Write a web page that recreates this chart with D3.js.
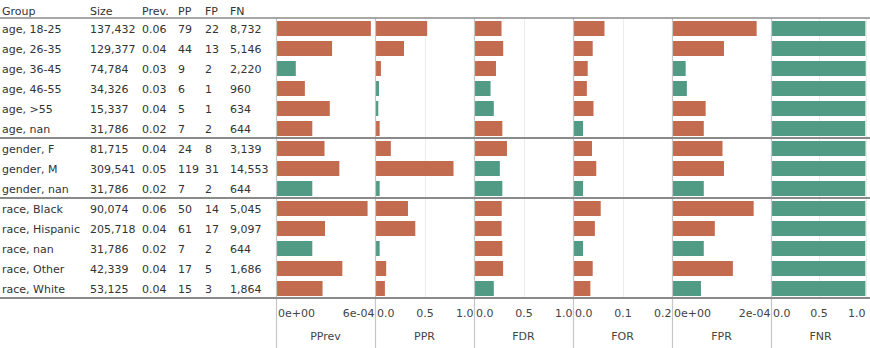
<!DOCTYPE html>
<html>
<head>
<meta charset="utf-8">
<script src="https://d3js.org/d3.v7.min.js"></script>
<style>
    body { margin: 0; background: #fff; }
    svg { display: block; font-family: "DejaVu Sans", Verdana, sans-serif; }
    .cell { font-size: 11px; fill: #333; }
    .tickLabel { font-size: 11px; fill: #444; }
    .panelTitle { font-size: 11px; fill: #444; }
</style>
</head>
<body>
<script>
//table data
var groups = ["age, 18-25", "age, 26-35", "age, 36-45", "age, 46-55", "age, >55", "age, nan",
    "gender, F", "gender, M", "gender, nan",
    "race, Black", "race, Hispanic", "race, nan", "race, Other", "race, White"];
var sizes = [137432, 129377, 74784, 34326, 15337, 31786, 81715, 309541, 31786, 90074, 205718, 31786, 42339, 53125];
var prevs = [0.06, 0.04, 0.03, 0.03, 0.04, 0.02, 0.04, 0.05, 0.02, 0.06, 0.04, 0.02, 0.04, 0.04];
var pps = [79, 44, 9, 6, 5, 7, 24, 119, 7, 50, 61, 7, 17, 15];
var fps = [22, 13, 2, 1, 1, 2, 8, 31, 2, 14, 17, 2, 5, 3];
var fns = [8732, 5146, 2220, 960, 634, 644, 3139, 14553, 644, 5045, 9097, 644, 1686, 1864];

//metric values, one per group
var pprev = [5.75e-4, 3.40e-4, 1.20e-4, 1.75e-4, 3.26e-4, 2.20e-4, 2.94e-4, 3.84e-4, 2.20e-4, 5.55e-4, 2.97e-4, 2.20e-4, 4.02e-4, 2.82e-4];
var ppr = [0.527, 0.293, 0.060, 0.040, 0.033, 0.047, 0.160, 0.793, 0.047, 0.333, 0.407, 0.047, 0.113, 0.100];
var fdr = [0.278, 0.295, 0.222, 0.167, 0.200, 0.286, 0.333, 0.261, 0.286, 0.280, 0.279, 0.286, 0.294, 0.200];
var forRate = [0.0636, 0.0398, 0.0297, 0.0280, 0.0414, 0.0203, 0.0384, 0.0470, 0.0203, 0.0560, 0.0442, 0.0203, 0.0398, 0.0351];
var fpr = [1.71e-4, 1.05e-4, 2.76e-5, 3.00e-5, 6.80e-5, 6.42e-5, 1.02e-4, 1.05e-4, 6.42e-5, 1.65e-4, 8.65e-5, 6.42e-5, 1.23e-4, 5.85e-5];
var fnr = [0.9935, 0.9940, 0.9969, 0.9948, 0.9937, 0.9923, 0.9949, 0.9940, 0.9923, 0.9929, 0.9952, 0.9923, 0.9929, 0.9936];

//1 = within parity (green), 0 = outside (orange)
var pprevOk = [0, 0, 1, 0, 0, 0, 0, 0, 1, 0, 0, 1, 0, 0];
var pprOk = [0, 0, 0, 1, 1, 0, 0, 0, 1, 0, 0, 1, 0, 0];
var fdrOk = [0, 0, 0, 1, 1, 0, 0, 1, 1, 0, 0, 0, 0, 1];
var forOk = [0, 0, 0, 0, 0, 1, 0, 0, 1, 0, 0, 1, 0, 0];
var fprOk = [0, 0, 1, 1, 0, 0, 0, 0, 1, 0, 0, 1, 0, 1];
var fnrOk = [1, 1, 1, 1, 1, 1, 1, 1, 1, 1, 1, 1, 1, 1];

//metric names, axis domains and tick values
var metricNames = ["PPrev", "PPR", "FDR", "FOR", "FPR", "FNR"];
var metricMax = [6e-4, 1, 1, 0.2, 2e-4, 1];
var metricTicks = [[0, 6e-4], [0, 0.5, 1], [0, 0.5, 1], [0, 0.1, 0.2], [0, 2e-4], [0, 0.5, 1]];
var tableHeaders = ["Group", "Size", "Prev.", "PP", "FP", "FN"];

var metricValues = [pprev, ppr, fdr, forRate, fpr, fnr];
var metricOk = [pprevOk, pprOk, fdrOk, forOk, fprOk, fnrOk];

window.onload = setChart();

function setChart(){
    var width = 870,
        height = 348,
        top = 18,
        bottom = 298,
        chartLeft = 276,
        panelWidths = [99, 99, 99, 99, 99, 95],
        panelStep = 99,
        colX = [2, 90, 142, 178, 205, 230];

    var svg = d3.select("body")
        .append("svg")
        .attr("width", width)
        .attr("height", height);

    //one band per group row
    var y = d3.scaleBand()
        .domain(d3.range(groups.length))
        .range([top, bottom]);

    //table header
    svg.selectAll(".header")
        .data(tableHeaders)
        .enter()
        .append("text")
        .attr("class", "cell")
        .attr("x", function(d, i){ return colX[i]; })
        .attr("y", 15)
        .text(function(d){ return d; });

    //table cells
    var comma = d3.format(",");
    var rows = groups.map(function(g, i){
        return [g, comma(sizes[i]), d3.format(".2f")(prevs[i]), pps[i], fps[i], comma(fns[i])];
    });
    var rowG = svg.selectAll(".row")
        .data(rows)
        .enter()
        .append("g")
        .attr("class", "row")
        .attr("transform", function(d, i){ return "translate(0," + (y(i) + 14.5) + ")"; });
    rowG.selectAll("text")
        .data(function(d){ return d; })
        .enter()
        .append("text")
        .attr("class", "cell")
        .attr("x", function(d, i){ return colX[i]; })
        .text(function(d){ return d; });

    //exponent format like 6e-04
    function expFormat(v){
        var s = d3.format(".0e")(v);
        return s.replace(/e([+-])(\d)$/, "e$10$2");
    }

    metricNames.forEach(function(name, m){
        var px = chartLeft + m * panelStep;
        var x = d3.scaleLinear()
            .domain([0, metricMax[m]])
            .range([px, px + panelWidths[m]]);
        var ticks = metricTicks[m];
        var isExp = metricMax[m] < 0.01;

        //gridlines
        svg.selectAll(".grid" + m)
            .data(ticks.slice(1))
            .enter()
            .append("line")
            .attr("x1", function(d){ return Math.round(x(d)) + 0.5; })
            .attr("x2", function(d){ return Math.round(x(d)) + 0.5; })
            .attr("y1", top)
            .attr("y2", bottom)
            .style("stroke", "#ececec");

        //bars
        svg.selectAll(".bar" + m)
            .data(metricValues[m])
            .enter()
            .append("rect")
            .attr("x", x(0))
            .attr("y", function(d, i){ return y(i) + 3; })
            .attr("width", function(d){ return x(d) - x(0); })
            .attr("height", y.bandwidth() - 5)
            .style("fill", function(d, i){
                return metricOk[m][i] ? "#519a84" : "#c36b4f";
            });

        //panel axis line
        svg.append("line")
            .attr("x1", px + 0.5)
            .attr("x2", px + 0.5)
            .attr("y1", top)
            .attr("y2", height)
            .style("stroke", "#c6c6c6")
            .style("stroke-width", 1.2);

        //tick labels
        var axis = d3.axisBottom(x)
            .tickValues(ticks)
            .tickSize(0)
            .tickPadding(11)
            .tickFormat(isExp ? expFormat : d3.format(".1f"));
        var axisG = svg.append("g")
            .attr("transform", "translate(0," + bottom + ")")
            .call(axis);
        axisG.select(".domain").remove();
        axisG.selectAll("text")
            .attr("class", "tickLabel")
            .attr("font-family", null)
            .attr("fill", null)
            .attr("text-anchor", function(d, i){
                if (i == 0) return "start";
                if (i == ticks.length - 1) return "end";
                return "middle";
            })
            .attr("dx", function(d, i){
                if (i == 0) return 1.5;
                if (i == ticks.length - 1) return -1;
                return 0;
            });
        axisG.attr("font-size", null).attr("font-family", null);

        //panel title
        svg.append("text")
            .attr("class", "panelTitle")
            .attr("x", px + panelStep / 2)
            .attr("y", 339.5)
            .attr("text-anchor", "middle")
            .text(name);
    });

    //group separators
    var lines = [top];
    for (var i = 1; i < groups.length; i++){
        if (groups[i].split(",")[0] != groups[i - 1].split(",")[0]) lines.push(y(i));
    }
    lines.push(bottom);
    svg.selectAll(".sep")
        .data(lines)
        .enter()
        .append("line")
        .attr("x1", 0)
        .attr("x2", width)
        .attr("y1", function(d){ return d; })
        .attr("y2", function(d){ return d; })
        .style("stroke", "#8a8a8a")
        .style("stroke-width", function(d, i){ return i == 0 ? 1.5 : 2; });
};
</script>
</body>
</html>
